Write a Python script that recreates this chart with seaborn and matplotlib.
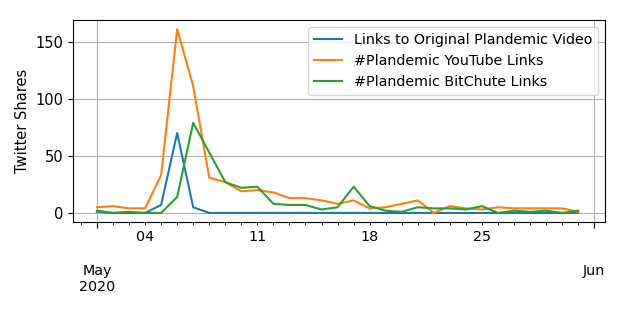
import matplotlib
matplotlib.use("Agg")
import matplotlib.pyplot as plt
import matplotlib.dates as mdates
import seaborn as sns
import pandas as pd

# daily Twitter shares, May 1 - May 31 2020
dates = pd.date_range("2020-05-01", "2020-05-31", freq="D")
original_video = [1, 0, 0, 0, 7, 70, 5, 0, 0, 0, 0, 0, 0, 0, 0, 0,
                  0, 0, 0, 0, 0, 0, 0, 0, 0, 0, 0, 0, 0, 0, 0]
youtube_links = [5, 6, 4, 4, 33, 161, 111, 31, 27, 19, 20, 18, 13, 13, 11, 8,
                 11, 4, 5, 8, 11, 0, 6, 4, 3, 5, 4, 4, 4, 4, 1]
bitchute_links = [2, 0, 1, 0, 0, 14, 79, 53, 27, 22, 23, 8, 7, 7, 3, 5,
                  23, 6, 2, 1, 5, 4, 4, 3, 6, 0, 2, 1, 2, 0, 2]
labels = ["Links to Original Plandemic Video",
          "#Plandemic YouTube Links",
          "#Plandemic BitChute Links"]

df = pd.DataFrame({"date": dates,
                   labels[0]: original_video,
                   labels[1]: youtube_links,
                   labels[2]: bitchute_links})
long_df = df.melt(id_vars="date", var_name="series", value_name="shares")

fig = plt.figure(figsize=(6.23, 3.12), dpi=100)
ax = fig.add_axes([0.117, 0.288, 0.854, 0.648])

sns.lineplot(data=long_df, x="date", y="shares", hue="series",
             palette=["#1f77b4", "#ff7f0e", "#2ca02c"], linewidth=1.5, ax=ax)

# x axis: months as major, days as minor (labels on Mondays)
ax.xaxis.set_major_locator(mdates.MonthLocator())
ax.xaxis.set_minor_locator(mdates.DayLocator())

def minor_fmt(x, pos=None):
    d = mdates.num2date(x)
    return d.strftime("%d") if d.weekday() == 0 else ""

ax.xaxis.set_minor_formatter(plt.FuncFormatter(minor_fmt))
ax.set_xlim(pd.Timestamp("2020-04-29 12:00"), pd.Timestamp("2020-06-01 16:00"))
ax.set_xticks([pd.Timestamp("2020-05-01"), pd.Timestamp("2020-06-01")])
ax.set_xticklabels(["May\n2020", "Jun"])
ax.tick_params(axis="x", which="major", pad=26, length=4, labelsize=10.3)
ax.tick_params(axis="x", which="minor", length=2, labelsize=10.3)
ax.tick_params(axis="y", which="major", labelsize=10.5)

ax.set_ylim(-8.05, 169.05)
ax.set_yticks([0, 50, 100, 150])
ax.grid(True, which="major", color="#b0b0b0", linewidth=0.8)
ax.set_xlabel("")
ax.set_ylabel("Twitter Shares", fontsize=10.5)
ax.legend(loc="upper right", fontsize=10.3)

fig.savefig("out.png", dpi=100)
